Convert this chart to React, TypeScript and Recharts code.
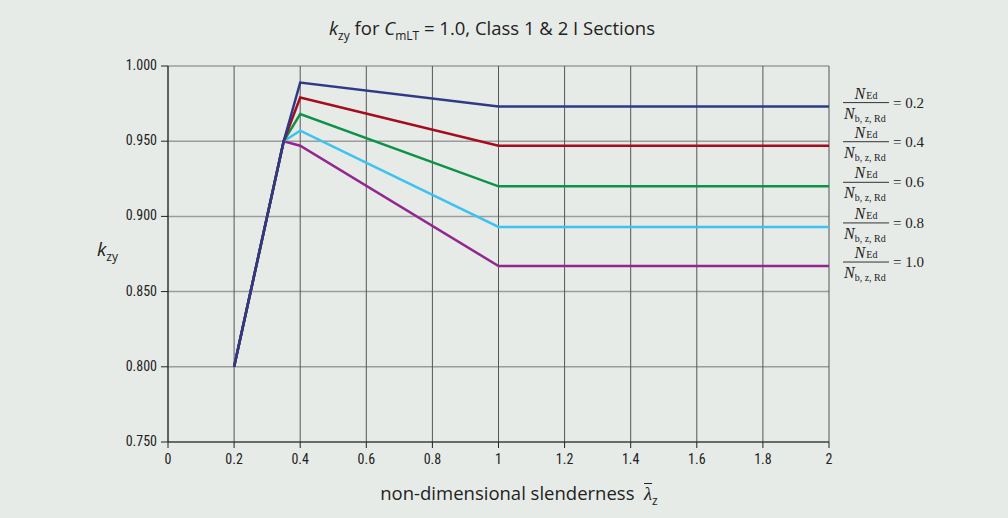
import { CartesianGrid, LabelList, Line, LineChart, XAxis, YAxis } from "recharts";

const lambdas = [0.2, 0.35, 0.4, 1, 2];
const kN02 = [0.8, 0.95, 0.989, 0.973, 0.973];
const kN04 = [0.8, 0.95, 0.979, 0.947, 0.947];
const kN06 = [0.8, 0.95, 0.968, 0.92, 0.92];
const kN08 = [0.8, 0.95, 0.957, 0.893, 0.893];
const kN10 = [0.8, 0.95, 0.947, 0.867, 0.867];
const ratioLabels = ["0.2", "0.4", "0.6", "0.8", "1.0"];
const xTicks = [0, 0.2, 0.4, 0.6, 0.8, 1, 1.2, 1.4, 1.6, 1.8, 2];
const yTicks = [0.75, 0.8, 0.85, 0.9, 0.95, 1.0];

const BG = "#e7ebe8";
const SERIES = [
  { key: "n02", values: kN02, color: "#2e3a87", label: ratioLabels[0] },
  { key: "n04", values: kN04, color: "#a50d1f", label: ratioLabels[1] },
  { key: "n06", values: kN06, color: "#0e9148", label: ratioLabels[2] },
  { key: "n08", values: kN08, color: "#3ec3f0", label: ratioLabels[3] },
  { key: "n10", values: kN10, color: "#93278f", label: ratioLabels[4] },
];

const data = lambdas.map((l, i) => {
  const row: any = { lambda: l };
  SERIES.forEach((s) => (row[s.key] = s.values[i]));
  return row;
});

const TICK_FONT = "'Liberation Sans Narrow', 'Roboto Condensed', 'Open Sans', sans-serif";
const SANS = "'Open Sans', 'Liberation Sans', sans-serif";
const SERIF = "'Liberation Serif', 'DejaVu Serif', serif";

const XTick = ({ x, y, payload }: any) => (
  <text x={x} y={y + 14} textAnchor="middle" fontSize={14} fontFamily={TICK_FONT} fill="#222">
    {String(payload.value)}
  </text>
);

const YTick = ({ x, y, payload }: any) => (
  <text x={x - 2} y={y + 4} textAnchor="end" fontSize={14} fontFamily={TICK_FONT} fill="#222">
    {Number(payload.value).toFixed(3)}
  </text>
);

// fraction N_Ed / N_b,z,Rd = value, drawn at the end of each line
const RatioLabel = (props: any) => {
  const { x, y, index, text } = props;
  if (index !== lambdas.length - 1) return null;
  const bx = x + 14;
  const by = y - 4;
  return (
    <g fontFamily={SERIF} fill="#222">
      <text x={bx + 23} y={by - 4} textAnchor="middle" fontSize={16} fontStyle="italic">
        N<tspan fontSize={10} fontStyle="normal" dx={1}>Ed</tspan>
      </text>
      <line x1={bx} x2={bx + 46} y1={by} y2={by} stroke="#333" strokeWidth={1} />
      <text x={bx + 1} y={by + 16} fontSize={16} fontStyle="italic">
        N<tspan fontSize={10} fontStyle="normal" dx={0} dy={3}>b, z, Rd</tspan>
      </text>
      <text x={bx + 50} y={by + 5} fontSize={15}>
        = {text}
      </text>
    </g>
  );
};

export default function App() {
  return (
    <div style={{ position: "absolute", left: 0, top: 0, width: 1008, height: 518, background: BG }}>
      <LineChart
        width={1008}
        height={518}
        data={data}
        margin={{ top: 66, right: 179, bottom: 46, left: 110 }}
      >
        <CartesianGrid vertical={false} stroke="#9c9c9c" strokeWidth={1.5} />
        <CartesianGrid horizontal={false} stroke="#555" strokeWidth={1} />
        <XAxis
          dataKey="lambda"
          type="number"
          domain={[0, 2]}
          ticks={xTicks}
          height={30}
          stroke="#222"
          tickSize={6}
          tick={<XTick />}
        />
        <YAxis
          type="number"
          domain={[0.75, 1.0]}
          ticks={yTicks}
          width={58}
          stroke="#222"
          tickSize={7}
          tick={<YTick />}
        />
        {[...SERIES].reverse().map((s) => (
          <Line
            key={s.key}
            dataKey={s.key}
            stroke={s.color}
            strokeWidth={2.5}
            dot={false}
            isAnimationActive={false}
          >
            <LabelList dataKey={s.key} content={(p: any) => <RatioLabel {...p} text={s.label} />} />
          </Line>
        ))}
      </LineChart>

      <div
        style={{
          position: "absolute",
          top: 15,
          left: 0,
          width: 984,
          textAlign: "center",
          fontFamily: SANS,
          fontSize: 18.5,
          color: "#222",
        }}
      >
        <i>k</i>
        <sub style={{ fontSize: 12 }}>zy</sub> for <i>C</i>
        <sub style={{ fontSize: 12 }}>mLT</sub> = 1.0, Class 1 &amp; 2 I Sections
      </div>

      <div
        style={{
          position: "absolute",
          top: 236,
          left: 97,
          fontFamily: SANS,
          fontSize: 19,
          color: "#222",
        }}
      >
        <i>k</i>
        <sub style={{ fontSize: 12 }}>zy</sub>
      </div>

      <div
        style={{
          position: "absolute",
          top: 480,
          left: 0,
          width: 1008,
          textAlign: "center",
          fontFamily: SANS,
          fontSize: 18.5,
          color: "#222",
          paddingLeft: 30,
          boxSizing: "border-box",
        }}
      >
        non-dimensional slenderness&nbsp;&nbsp;
        <span style={{ textDecoration: "overline", fontStyle: "italic", fontFamily: SERIF }}>λ</span>
        <sub style={{ fontSize: 12 }}>z</sub>
      </div>
    </div>
  );
}
